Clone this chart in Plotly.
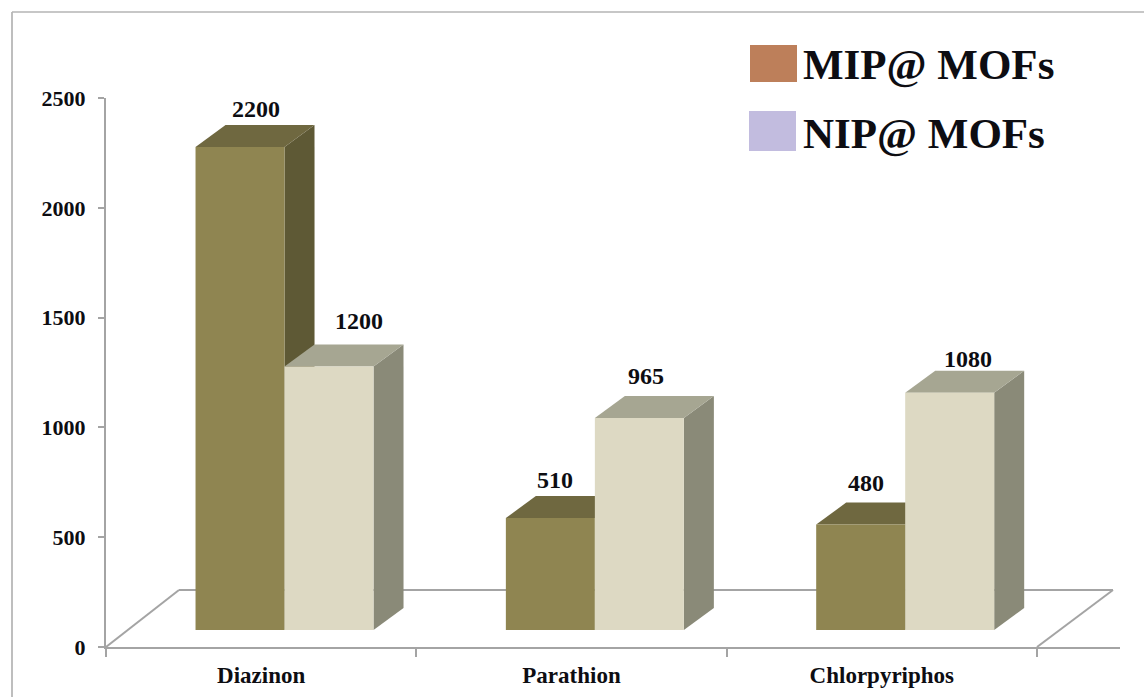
import plotly.graph_objects as go

categories = ["Diazinon", "Parathion", "Chlorpyriphos"]
mip_values = [2200, 510, 480]
nip_values = [1200, 965, 1080]
y_ticks = [0, 500, 1000, 1500, 2000, 2500]
series_names = ["MIP@ MOFs", "NIP@ MOFs"]

WIDTH, HEIGHT = 1144, 697
M_L, M_R, M_T, M_B = 106, 24, 98, 50
PLOT_W = WIDTH - M_L - M_R
PLOT_H = HEIGHT - M_T - M_B
SLOT_PX = 310.33
X_MAX = PLOT_W / SLOT_PX
Y_MAX = 2500
PX_PER_UNIT = PLOT_H / Y_MAX

# Pseudo-3D geometry, expressed in axis units
BAR_W = 89 / SLOT_PX
BAR_START = 0.2885
BAR_BASE = 17 / PX_PER_UNIT
DEPTH_X = 30 / SLOT_PX
DEPTH_Y = 22 / PX_PER_UNIT
FLOOR_X = 73 / SLOT_PX
FLOOR_Y = 57 / PX_PER_UNIT
FLOOR_R = 1113
FONT = "Liberation Serif"
AXIS_COL = "#a4a4a4"
TEXT_COL = "#0d0d12"

MIP_FACES = dict(front="#8f8551", side="#5e5935", top="#6f6840")
NIP_FACES = dict(front="#ddd9c3", side="#8a8a78", top="#a6a692")

# Nudges (px) that sit each value label above its bar's top face
MIP_LABEL_SHIFT = [(16, 38), (5, 38), (5, 42)]
NIP_LABEL_SHIFT = [(30, 45), (7, 42), (18, 34)]


def polygon(points, fill):
    path = "M " + " L ".join(f"{x},{y}" for x, y in points) + " Z"
    return dict(type="path", path=path, xref="x", yref="y", layer="below",
                fillcolor=fill, line=dict(width=0))


def faces(left, value, colors):
    """Side and top faces of one box, from its value."""
    top = BAR_BASE + value
    right = left + BAR_W
    return [
        polygon([(right, BAR_BASE), (right + DEPTH_X, BAR_BASE + DEPTH_Y),
                 (right + DEPTH_X, top + DEPTH_Y), (right, top)], colors["side"]),
        polygon([(left, top), (left + DEPTH_X, top + DEPTH_Y),
                 (right + DEPTH_X, top + DEPTH_Y), (right, top)], colors["top"]),
    ]


def px_x(px):
    return (px - M_L) / PLOT_W


def px_y(px):
    return 1 - (px - M_T) / PLOT_H


positions = list(range(len(categories)))
mip_left = [p + BAR_START for p in positions]
nip_left = [p + BAR_START + BAR_W for p in positions]

fig = go.Figure()
for name, lefts, values, colors in [
    (series_names[0], mip_left, mip_values, MIP_FACES),
    (series_names[1], nip_left, nip_values, NIP_FACES),
]:
    fig.add_bar(
        x=[left + BAR_W / 2 for left in lefts], y=values, base=BAR_BASE,
        width=BAR_W, name=name, marker=dict(color=colors["front"], line=dict(width=0)),
        showlegend=False,
    )

# Floor outline, then box faces back to front; the bar traces paint over them
floor_left = dict(type="line", xref="x", yref="y", layer="below", x0=0, y0=0,
                  x1=FLOOR_X, y1=FLOOR_Y, line=dict(color=AXIS_COL, width=2))
floor_back = dict(type="line", xref="x", yref="y", layer="below", x0=FLOOR_X, y0=FLOOR_Y,
                  x1=(FLOOR_R - M_L) / SLOT_PX, y1=FLOOR_Y, line=dict(color=AXIS_COL, width=2))
floor_right = dict(type="line", xref="x", yref="y", layer="below", x0=len(categories), y0=0,
                   x1=(FLOOR_R - M_L) / SLOT_PX, y1=FLOOR_Y, line=dict(color=AXIS_COL, width=2))
shapes = [floor_left, floor_back, floor_right]
for i in positions:
    shapes += faces(mip_left[i], mip_values[i], MIP_FACES)
    shapes += faces(nip_left[i], nip_values[i], NIP_FACES)

# Frame around the figure: left and top edges only
shapes += [
    dict(type="line", xref="paper", yref="paper", x0=px_x(12), x1=px_x(12), y0=px_y(12), y1=px_y(697),
         line=dict(color="#a9a9a9", width=1.5)),
    dict(type="line", xref="paper", yref="paper", x0=px_x(12), x1=px_x(1144), y0=px_y(12), y1=px_y(12),
         line=dict(color="#b4b4b4", width=1.5)),
]

# Hand-placed key
for (x0, x1, y0, y1), col in [((750, 797, 45, 82), "#bd7f5a"), ((749, 796, 111, 151), "#c2bcdf")]:
    shapes.append(dict(type="rect", xref="paper", yref="paper", x0=px_x(x0), x1=px_x(x1),
                       y0=px_y(y0), y1=px_y(y1), fillcolor=col, line=dict(width=0)))

annotations = []
for lefts, values, shifts in [(mip_left, mip_values, MIP_LABEL_SHIFT),
                              (nip_left, nip_values, NIP_LABEL_SHIFT)]:
    for left, value, (dx, dy) in zip(lefts, values, shifts):
        annotations.append(dict(
            x=left + BAR_W / 2, y=BAR_BASE + value, text=str(value), showarrow=False,
            xshift=dx, yshift=dy, xanchor="center", yanchor="middle",
            font=dict(family=FONT, size=24, color=TEXT_COL, weight=700),
        ))
for name, x, y in [(series_names[0], 801, 64), (series_names[1], 801, 133)]:
    annotations.append(dict(
        x=px_x(x), y=px_y(y), xref="paper", yref="paper", text=name, showarrow=False,
        xanchor="left", yanchor="middle",
        font=dict(family=FONT, size=43, color=TEXT_COL, weight=700),
    ))

fig.update_layout(
    width=WIDTH, height=HEIGHT, margin=dict(l=M_L, r=M_R, t=M_T, b=M_B, autoexpand=False),
    paper_bgcolor="white", plot_bgcolor="white", barmode="overlay",
    shapes=shapes, annotations=annotations,
    xaxis=dict(
        range=[0, X_MAX], showgrid=False, zeroline=False, showline=True,
        linecolor=AXIS_COL, linewidth=2,
        tickmode="array", tickvals=[p + 0.5 for p in positions], ticktext=categories, ticks="",
        tickfont=dict(family=FONT, size=23, color=TEXT_COL, weight=700),
        ticklabelstandoff=6,
        minor=dict(tickmode="array", tickvals=[0, 1, 2, 3], ticks="outside", ticklen=8,
                   tickcolor=AXIS_COL, tickwidth=2, showgrid=False),
    ),
    yaxis=dict(
        range=[0, Y_MAX], showgrid=False, zeroline=False, showline=True,
        linecolor=AXIS_COL, linewidth=2,
        tickmode="array", tickvals=y_ticks, ticks="outside", ticklen=6,
        tickcolor=AXIS_COL, tickwidth=2,
        tickfont=dict(family=FONT, size=22, color=TEXT_COL, weight=700),
        ticklabelstandoff=8,
    ),
)
fig.write_html("out.html", config=dict(displayModeBar=False))
